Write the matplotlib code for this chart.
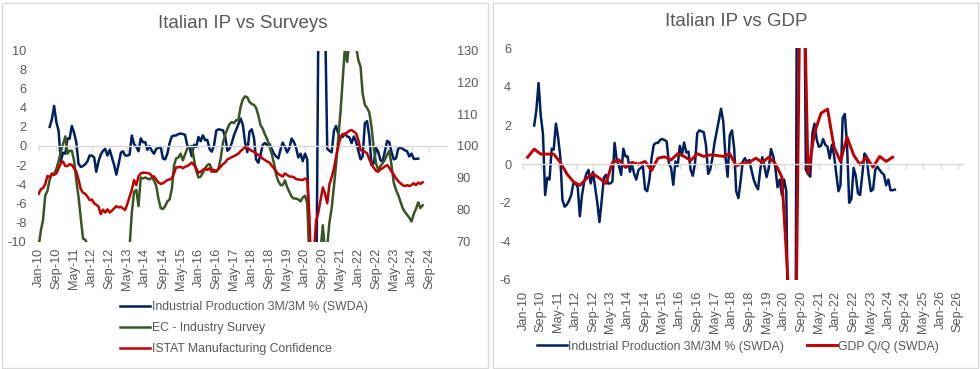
import matplotlib
matplotlib.use("Agg")
import matplotlib.pyplot as plt
import matplotlib.dates as mdates
from matplotlib.patches import Rectangle
import pandas as pd

plt.rcParams['font.family'] = ['Liberation Sans', 'DejaVu Sans']

# ---------------- data ----------------
ip_start = "2010-06-01"      # monthly, Industrial Production 3M/3M %
ip_values = [
    2.0, 2.8, 4.2, 2.5, 1.6, -1.6, -0.7,                                   # 2010 Jun-Dec
    -0.8, 0.8, 0.75, 2.1, 1.4, 0.4, -1.85, -2.2, -2.1, -1.9, -1.6, -1.0,   # 2011
    -1.0, -1.2, -2.7, -1.6, -0.9, -0.5, -0.3, -1.0, -0.4, -1.2, -2.0, -3.0,  # 2012
    -1.9, -0.7, -0.55, -1.0, -1.0, -0.9, 1.1, 0.2, -0.1, -0.55, 0.8, 0.4,  # 2013
    0.4, -0.4, 0.0, -0.5, -0.8, -0.3, -0.2, -0.1, -1.3, -1.4, -0.8, 0.3,   # 2014
    1.0, 1.1, 1.1, 1.26, 1.3, 1.25, 1.17, 0.05, -0.2, -1.07, 0.14, -0.1,   # 2015
    0.95, 0.5, 1.12, 0.6, 0.65, -0.3, -0.6, 0.05, 1.6, 1.75, 1.7, 1.65,    # 2016
    1.0, -0.5, -0.3, 0.3, 1.1, 1.7, 2.3, 2.87, 2.2, 0.4, -0.65, 1.5,       # 2017
    1.75, 0.8, -1.4, -1.76, -0.9, 0.14, 0.31, 0.09, 0.22, -0.3, -0.8, -1.1,  # 2018
    -1.3, -0.3, 0.36, -0.12, -0.67, -0.2, 0.78, 0.43, -0.2, -1.2, -0.8, -1.6,  # 2019
    -0.8, -1.4, -10.4, -24.5, -32.0, -19.0, 12.7, 36.0, 30.0, 14.0, -0.3, -0.5,  # 2020
    -0.65, 1.6, 2.1, 1.3, 0.9, 0.95, 1.3, 1.0, 0.9, 0.3, 1.0, 0.45,        # 2021
    -0.5, -1.4, -1.1, 2.4, 2.6, 1.0, -2.0, -1.8, -0.2, -0.6, -1.5, -1.6,   # 2022
    -0.5, 0.55, 0.4, -0.6, -1.4, -1.3, -0.3, -0.13, -0.3, -0.45, -0.55, -1.1,  # 2023
    -0.8, -1.35, -1.35, -1.32,                                             # 2024 Jan-Apr
]

survey_start = "2010-01-01"  # monthly
ec_values = [
    -10.5, -8.8, -7.8, -5.2, -4.7, -3.5, -3.0, -2.9, -2.4, -1.6, -0.6, 0.2,      # 2010
    1.0, -0.8, -0.5, -0.5, -1.5, -3.6, -5.3, -7.5, -9.7, -9.8, -10.3, -11.0,     # 2011
    -12.5, -14.0, -15.0, -16.0, -17.0, -18.0, -18.0, -17.5, -17.0, -16.5, -16.0, -15.5,  # 2012
    -15.0, -14.0, -13.0, -12.5, -11.5, -10.5, -7.0, -4.8, -4.6, -6.3, -3.3, -3.4,  # 2013
    -3.3, -3.4, -3.5, -3.3, -3.6, -4.2, -5.5, -6.5, -6.6, -6.3, -5.8, -5.6,      # 2014
    -4.5, -2.0, -1.3, -1.2, -0.8, -1.5, -0.9, -0.25, -0.1, 0.0, -1.4, -2.6,      # 2015
    -3.3, -3.2, -2.8, -2.4, -2.0, -1.9, -2.4, -2.7, -2.7, -2.4, -1.3, 0.3,       # 2016
    1.2, 1.8, 2.3, 2.5, 2.4, 2.7, 2.7, 4.1, 4.9, 5.2, 5.1, 4.6,                  # 2017
    4.4, 4.3, 4.0, 3.2, 2.2, 1.8, 1.2, 0.7, 0.0, -0.8, -1.8, -3.0,               # 2018
    -3.7, -4.1, -4.1, -3.6, -4.3, -4.8, -5.3, -5.5, -5.5, -5.6, -5.8, -5.4,      # 2019
    -5.2, -6.0, -12.0, -20.0, -25.0, -19.0, -14.0, -11.0, -8.3, -11.0, -10.5, -8.0,  # 2020
    -6.5, -4.2, -2.0, 0.8, 3.5, 7.0, 10.3, 8.8, 11.0, 12.0, 11.5, 10.5,          # 2021
    9.0, 8.3, 5.5, 4.3, 4.0, 3.5, 2.0, -0.3, -1.8, -2.5, -2.1, -1.8,             # 2022
    -1.4, -0.9, -0.5, -2.0, -3.8, -4.6, -5.1, -5.8, -6.5, -6.9, -7.2, -7.5,      # 2023
    -7.9, -7.1, -6.6, -5.9, -6.5, -6.2,                                          # 2024 Jan-Jun
]
istat_values = [
    85.0, 86.5, 86.7, 88.0, 90.6, 90.2, 91.4, 90.9, 91.4, 93.0, 94.6, 95.1,      # 2010
    93.7, 93.7, 94.3, 94.0, 93.0, 92.0, 89.5, 86.5, 85.3, 85.0, 84.1, 83.0,      # 2011
    83.2, 82.0, 81.5, 81.0, 78.6, 80.0, 79.1, 80.1, 79.1, 79.7, 80.4, 81.1,      # 2012
    80.7, 80.9, 80.4, 79.9, 81.8, 84.1, 86.2, 89.3, 87.7, 90.5, 91.4, 91.6,      # 2013
    91.6, 91.5, 91.4, 90.6, 90.4, 89.5, 88.5, 88.1, 88.3, 88.8, 89.3, 89.5,      # 2014
    89.8, 91.5, 93.3, 93.3, 93.5, 93.0, 93.5, 93.7, 94.2, 94.8, 94.0, 93.0,      # 2015
    91.6, 91.9, 92.5, 93.0, 92.5, 93.0, 91.9, 92.5, 92.1, 92.8, 93.5, 94.3,      # 2016
    94.8, 95.8, 96.1, 96.5, 96.8, 97.2, 97.6, 98.4, 99.0, 99.6, 99.3, 99.0,      # 2017
    98.4, 98.2, 97.6, 97.2, 96.8, 96.0, 95.6, 95.1, 94.8, 93.8, 93.0, 92.0,      # 2018
    91.2, 90.8, 90.4, 91.4, 90.9, 90.4, 90.4, 90.2, 89.6, 89.5, 89.4, 89.3,      # 2019
    89.8, 89.3, 78.0, 55.0, 66.0, 76.5, 79.0, 83.0, 87.0, 85.0, 82.0, 88.0,      # 2020
    90.2, 93.0, 96.5, 100.0, 102.6, 103.8, 103.5, 104.3, 104.8, 105.0, 104.5, 104.0,  # 2021
    101.9, 98.7, 98.5, 98.2, 97.7, 95.8, 94.2, 93.2, 92.2, 91.9, 92.7, 93.0,     # 2022
    93.6, 94.0, 93.2, 92.0, 91.0, 89.9, 89.0, 88.3, 87.7, 87.4, 87.7, 87.4,      # 2023
    87.8, 88.3, 87.7, 88.5, 88.1, 88.6,                                          # 2024 Jan-Jun
]

gdp_start = "2010-03-01"     # quarterly (quarter-end month), GDP Q/Q %
gdp_values = [
    0.36, 0.78, 0.52, 0.52,     # 2010
    0.52, 0.1, -0.5, -0.9,      # 2011
    -1.1, -0.75, -0.5, -0.73,   # 2012
    -1.0, 0.09, 0.22, -0.17,    # 2013
    0.09, 0.0, 0.14, -0.33,     # 2014
    0.31, 0.38, 0.22, 0.54,     # 2015
    0.4, 0.19, 0.54, 0.4,       # 2016
    0.48, 0.45, 0.4, 0.54,      # 2017
    -0.09, 0.05, 0.1, 0.31,     # 2018
    0.09, 0.36, 0.02, -0.67,    # 2019
    -6.4, -13.0, 16.0, -0.5,    # 2020
    1.6, 2.64, 2.85, 0.88,      # 2021
    0.14, 1.4, 0.48, -0.03,     # 2022
    0.36, -0.16, 0.4, 0.14,     # 2023
    0.36,                       # 2024 Q1
]

left_title = "Italian IP vs Surveys"
right_title = "Italian IP vs GDP"
ip_label = "Industrial Production 3M/3M % (SWDA)"
ec_label = "EC - Industry Survey"
istat_label = "ISTAT Manufacturing Confidence"
gdp_label = "GDP Q/Q (SWDA)"
left_yticks = list(range(-10, 11, 2))
left_y2ticks = list(range(70, 131, 10))
right_yticks = list(range(-6, 7, 2))
tick_start = "2010-01-01"
left_tick_end = "2024-09-01"
right_tick_end = "2026-09-01"

# ---------------- styling ----------------
BLUE = "#002060"
GREEN = "#375623"
RED = "#C00000"
GRID = "#D9D9D9"
TXT = "#595959"
LW = 1.8
FS = 9.2
LFS = 8.8
W, H = 980, 369


def fx(px):
    return px / W


def fy(py):
    return 1 - py / H


ip_dates = mdates.date2num(pd.date_range(ip_start, periods=len(ip_values), freq="MS"))
survey_dates = mdates.date2num(pd.date_range(survey_start, periods=len(ec_values), freq="MS"))
gdp_dates = mdates.date2num(pd.date_range(gdp_start, periods=len(gdp_values), freq="3MS"))

fig = plt.figure(figsize=(W / 100, H / 100), dpi=100)
fig.patch.set_facecolor("white")

# panel borders
for x0, x1 in [(1.7, 487.7), (493.3, 978.3)]:
    fig.add_artist(Rectangle((fx(x0), fy(367.7)), fx(x1) - fx(x0), fy(2.7) - fy(367.7),
                             transform=fig.transFigure, fill=False, edgecolor=GRID, lw=1.0))


def style_axes(ax, tick_end, xmax, yticks, ylim, label_pad_x):
    ax.set_ylim(*ylim)
    ax.set_yticks(yticks)
    ax.set_yticklabels([str(t) for t in yticks])
    ticks = pd.date_range(tick_start, tick_end, freq="8MS")
    tnum = mdates.date2num(ticks)
    ax.set_xlim(mdates.date2num(pd.Timestamp("2009-12-16")), mdates.date2num(pd.Timestamp(xmax)))
    ax.set_xticks(tnum)
    for s in ["top", "left", "right"]:
        ax.spines[s].set_visible(False)
    ax.spines["bottom"].set_position(("data", 0))
    ax.spines["bottom"].set_color(GRID)
    ax.spines["bottom"].set_linewidth(1.0)
    ax.tick_params(axis="x", direction="out", length=3.5, width=1.0, color=GRID, labelbottom=False)
    ax.tick_params(axis="y", length=0, labelsize=FS, labelcolor=TXT, pad=8)
    sec = ax.secondary_xaxis(0.0)
    sec.set_xticks(tnum)
    sec.set_xticklabels([t.strftime("%b-%y") for t in ticks], rotation=90)
    sec.tick_params(length=0, labelsize=FS, labelcolor=TXT, pad=label_pad_x)
    for s in sec.spines.values():
        s.set_visible(False)
    ax.patch.set_alpha(0)


# ---------------- left chart ----------------
ax1 = fig.add_axes([fx(37.5), fy(241.5), fx(447) - fx(37.5), fy(50.5) - fy(241.5)])
style_axes(ax1, left_tick_end, "2025-05-01", left_yticks, (-10, 10), 4.5)
l_ip, = ax1.plot(ip_dates, ip_values, color=BLUE, lw=LW, solid_joinstyle="round")
l_ec, = ax1.plot(survey_dates, ec_values, color=GREEN, lw=LW, solid_joinstyle="round")
ax1b = ax1.twinx()
ax1b.set_ylim(70, 130)
ax1b.set_yticks(left_y2ticks)
for s in ax1b.spines.values():
    s.set_visible(False)
ax1b.tick_params(axis="y", length=0, labelsize=FS, labelcolor=TXT, pad=7)
l_istat, = ax1b.plot(survey_dates, istat_values, color=RED, lw=LW, solid_joinstyle="round")
fig.text(fx(243), fy(23), left_title, ha="center", va="center", fontsize=13.5, color=TXT)
fig.legend(handles=[l_ip, l_ec, l_istat], labels=[ip_label, ec_label, istat_label],
           loc="center", bbox_to_anchor=(fx(244), fy(328)), ncol=1, frameon=False,
           fontsize=LFS, handlelength=2.45, handletextpad=0.1, labelspacing=0.75,
           labelcolor=TXT)

# ---------------- right chart ----------------
ax2 = fig.add_axes([fx(522.3), fy(280), fx(963.3) - fx(522.3), fy(48.3) - fy(280)])
style_axes(ax2, right_tick_end, "2026-11-16", right_yticks, (-6, 6), 7.5)
r_ip, = ax2.plot(ip_dates, ip_values, color=BLUE, lw=LW, solid_joinstyle="round")
r_gdp, = ax2.plot(gdp_dates, gdp_values, color=RED, lw=LW + 0.3, solid_joinstyle="round")
fig.text(fx(736.7), fy(21.7), right_title, ha="center", va="center", fontsize=13.5, color=TXT)
fig.legend(handles=[r_ip, r_gdp], labels=[ip_label, gdp_label],
           loc="center", bbox_to_anchor=(fx(738), fy(346.7)), ncol=2, frameon=False,
           fontsize=LFS, handlelength=2.45, handletextpad=0.1, columnspacing=1.9,
           labelcolor=TXT)

fig.savefig("out.png", dpi=100, facecolor="white")
